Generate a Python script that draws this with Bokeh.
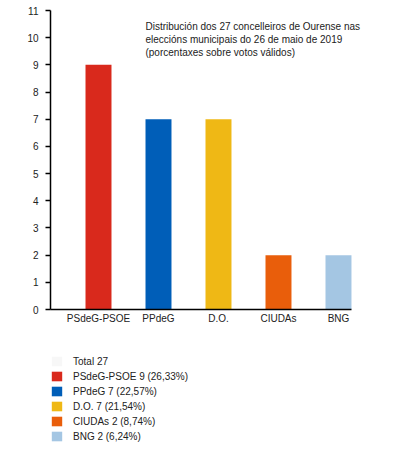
from bokeh.plotting import figure
from bokeh.models import (ColumnDataSource, Range1d, FixedTicker, Label,
                          Legend, LegendItem)
from bokeh.layouts import column
from bokeh.embed import file_html
from bokeh.resources import INLINE

# Data: Ourense municipal elections, 26 May 2019
parties = ["PSdeG-PSOE", "PPdeG", "D.O.", "CIUDAs", "BNG"]
seats = [9, 7, 7, 2, 2]
percents = ["26,33%", "22,57%", "21,54%", "8,74%", "6,24%"]
colors = ["#d9291c", "#005eb8", "#efb815", "#e95e0b", "#a4c6e3"]
y_ticks = list(range(0, 12))
total = sum(seats)

FONT = "Liberation Sans"
TEXT = "#222222"
W = 404

source = ColumnDataSource(data=dict(
    x=list(range(len(parties))), top=seats, color=colors,
))

# ---- bar chart ----
p = figure(
    width=W, height=340,
    x_range=Range1d(-0.8, 4.767), y_range=Range1d(0, 11),
    output_backend="svg", toolbar_location=None,
    min_border_left=50, min_border_right=20,
    min_border_top=10, min_border_bottom=31,
)

bars = p.vbar(x="x", top="top", width=0.433, source=source,
              fill_color="color", line_color=None)

p.xaxis.ticker = FixedTicker(ticks=list(range(len(parties))))
p.xaxis.major_label_overrides = {i: name for i, name in enumerate(parties)}
p.xaxis.bounds = (-0.8, 4.217)
p.xaxis.major_tick_out = 0
p.xaxis.major_tick_in = 0
p.xaxis.minor_tick_line_color = None
p.xaxis.major_label_standoff = 3

p.yaxis.ticker = FixedTicker(ticks=y_ticks)
p.yaxis.major_tick_out = 5
p.yaxis.major_tick_in = 0
p.yaxis.minor_tick_line_color = None
p.yaxis.major_label_standoff = 7

for ax in (p.xaxis, p.yaxis):
    ax.axis_line_color = "black"
    ax.axis_line_width = 1.5
    ax.major_tick_line_color = "black"
    ax.major_tick_line_width = 1.5
    ax.major_label_text_font = FONT
    ax.major_label_text_font_size = "10px"
    ax.major_label_text_color = TEXT

p.grid.grid_line_color = None
p.outline_line_color = None
p.background_fill_color = "white"
p.border_fill_color = "white"

title = Label(
    x=0.783, y=10.63, text_baseline="top", text_align="left",
    text="Distribución dos 27 concelleiros de Ourense nas\n"
         "eleccións municipais do 26 de maio de 2019\n"
         "(porcentaxes sobre votos válidos)",
    text_font=FONT, text_font_size="10px", text_color=TEXT,
    text_line_height=1.2,
)
p.add_layout(title)

# ---- legend panel (own small figure under the chart) ----
lg = figure(
    width=W, height=102,
    x_range=Range1d(100, 101), y_range=Range1d(100, 101),
    x_axis_location=None, y_axis_location=None,
    output_backend="svg", toolbar_location=None,
    min_border=0,
)
lg.grid.grid_line_color = None
lg.outline_line_color = None

# bars out of view, only used as legend swatches
lg_bars = lg.vbar(x="x", top="top", width=0.4, source=source,
                  fill_color="color", line_color=None)
total_r = lg.vbar(x=[0], top=[1], width=0.4, fill_color="#f7f7f7", line_color=None)

items = [LegendItem(label=f"Total {total}", renderers=[total_r])]
for i, name in enumerate(parties):
    items.append(LegendItem(label=f"{name} {seats[i]} ({percents[i]})",
                            renderers=[lg_bars], index=i))

legend = Legend(
    items=items, location=(0, 0), orientation="vertical",
    glyph_width=13, glyph_height=12, label_height=12, label_width=10,
    spacing=3, padding=0, margin=0, label_standoff=10,
    border_line_color=None, background_fill_alpha=0,
    label_text_font=FONT, label_text_font_size="10px",
    label_text_color=TEXT,
)
lg.add_layout(legend)

open("out.html", "w").write(file_html(column(p, lg), INLINE))
